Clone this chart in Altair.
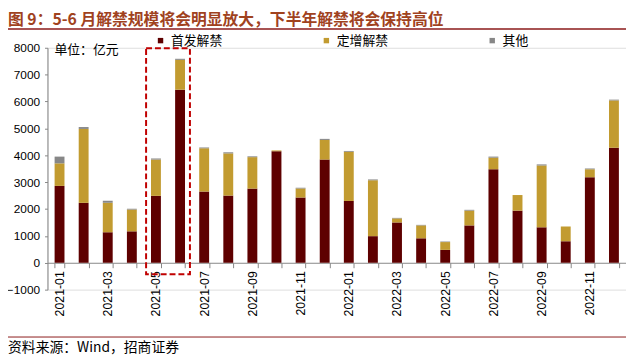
import altair as alt
import pandas as pd

# ---------------- data ----------------
months = ["2021-01", "2021-02", "2021-03", "2021-04", "2021-05", "2021-06",
          "2021-07", "2021-08", "2021-09", "2021-10", "2021-11", "2021-12",
          "2022-01", "2022-02", "2022-03", "2022-04", "2022-05", "2022-06",
          "2022-07", "2022-08", "2022-09", "2022-10", "2022-11", "2022-12"]
ipo_unlock = [2860, 2230, 1140, 1170, 2490, 6440, 2650, 2500, 2760, 4150, 2430, 3840,
              2300, 990, 1500, 910, 480, 1390, 3480, 1940, 1320, 800, 3180, 4280]
placement_unlock = [840, 2750, 1090, 810, 1350, 1110, 1610, 1570, 1170, 30, 330, 730,
                    1830, 2080, 150, 480, 290, 550, 430, 580, 2300, 550, 300, 1760]
other_unlock = [250, 70, 80, 30, 40, 40, 30, 40, 30, 0, 30, 40,
                30, 30, 20, 20, 20, 30, 40, 0, 40, 0, 30, 30]
series_names = ["首发解禁", "定增解禁", "其他"]
series_colors = ["#5E0000", "#C29B30", "#878787"]
y_ticks = [-1000, 0, 1000, 2000, 3000, 4000, 5000, 6000, 7000, 8000]

title_text = "图 9：5-6 月解禁规模将会明显放大，下半年解禁将会保持高位"
unit_text = "单位：亿元"
source_text = "资料来源：Wind，招商证券"

highlight_start = "2021-05"
highlight_end = "2021-06"
highlight_top = 7980
highlight_bottom = -430

# ---------------- table ----------------
rows = []
for i, m in enumerate(months):
    for k, vals in enumerate([ipo_unlock, placement_unlock, other_unlock]):
        rows.append({"month": m, "series": series_names[k], "idx": k, "value": vals[i]})
df = pd.DataFrame(rows)

W, H = 586, 245
LABEL_FONT = "Liberation Sans"
CJK_FONT = "Noto Sans CJK SC"

x_scale = alt.Scale(domain=months, paddingInner=0.59, paddingOuter=0.295)
y_scale = alt.Scale(domain=[-1000, 8000], nice=False, zero=False)

x_axis = alt.Axis(title=None, labelAngle=-90, tickBand="extent",
                  labelExpr="parseInt(substring(datum.label, 5, 7)) % 2 == 1 ? datum.label : ''",
                  offset=-H / 9.0, tickSize=5, labelPadding=3,
                  labelFont=LABEL_FONT, labelFontSize=12.5, labelColor="#000000",
                  domainColor="#868686", tickColor="#868686", labelOverlap=False)
y_axis = alt.Axis(title=None, values=y_ticks, format="d", grid=False,
                  tickSize=3, labelPadding=5, labelOverlap=False,
                  labelFont=LABEL_FONT, labelFontSize=12, labelColor="#000000",
                  domainColor="#868686", tickColor="#868686")

bars = alt.Chart(df).mark_bar().encode(
    x=alt.X("month:N", scale=x_scale, sort=months, axis=x_axis),
    y=alt.Y("value:Q", stack="zero", scale=y_scale, axis=y_axis),
    color=alt.Color("series:N", scale=alt.Scale(domain=series_names, range=series_colors),
                    legend=alt.Legend(orient="none", legendX=108, legendY=-14,
                                      direction="horizontal", title=None,
                                      symbolType="square", symbolSize=30, symbolStrokeWidth=0,
                                      labelFont=CJK_FONT, labelFontSize=13, labelColor="#000000",
                                      columnPadding=98, labelOffset=4)),
    order=alt.Order("idx:Q", sort="ascending"),
)

hl_df = pd.DataFrame({"s": [highlight_start], "e": [highlight_end],
                      "top": [highlight_top], "bot": [highlight_bottom]})
highlight = alt.Chart(hl_df).mark_rect(
    filled=False, stroke="#C00000", strokeWidth=2, strokeDash=[6, 3],
    xOffset=-10, x2Offset=10
).encode(
    x=alt.X("s:N", scale=x_scale, sort=months, axis=x_axis),
    x2="e:N",
    y=alt.Y("top:Q", scale=y_scale, axis=y_axis),
    y2="bot:Q",
)

one = pd.DataFrame({"a": [0]})
title = alt.Chart(pd.DataFrame({"t": [title_text]})).mark_text(
    align="left", baseline="top", font=CJK_FONT, fontSize=16, fontWeight="bold",
    color="#A0421E"
).encode(text="t:N", x=alt.value(-40), y=alt.value(-36))

top_line = alt.Chart(one).mark_rule(color="#8B1A1A", strokeWidth=1.5).encode(
    x=alt.value(-40), x2=alt.value(W), y=alt.value(-19))

bottom_line = alt.Chart(one).mark_rule(color="#8B1A1A", strokeWidth=1).encode(
    x=alt.value(-40), x2=alt.value(W), y=alt.value(293))

unit = alt.Chart(pd.DataFrame({"t": [unit_text]})).mark_text(
    align="left", baseline="middle", font=CJK_FONT, fontSize=13, color="#000000"
).encode(text="t:N", x=alt.value(7), y=alt.value(2))

source = alt.Chart(pd.DataFrame({"t": [source_text]})).mark_text(
    align="left", baseline="middle", font=CJK_FONT, fontSize=14, color="#000000"
).encode(text="t:N", x=alt.value(-40), y=alt.value(304))

chart = alt.layer(bars, highlight, title, top_line, bottom_line, unit, source).properties(
    width=W, height=H,
    padding={"left": 40, "top": 38, "right": 0, "bottom": 70},
    autosize=alt.AutoSizeParams(type="none"),
).configure_view(stroke=None).configure(background="white").configure_axis(labelOverlap=False)

chart.save("out.html", embed_options={"renderer": "svg", "actions": False})
